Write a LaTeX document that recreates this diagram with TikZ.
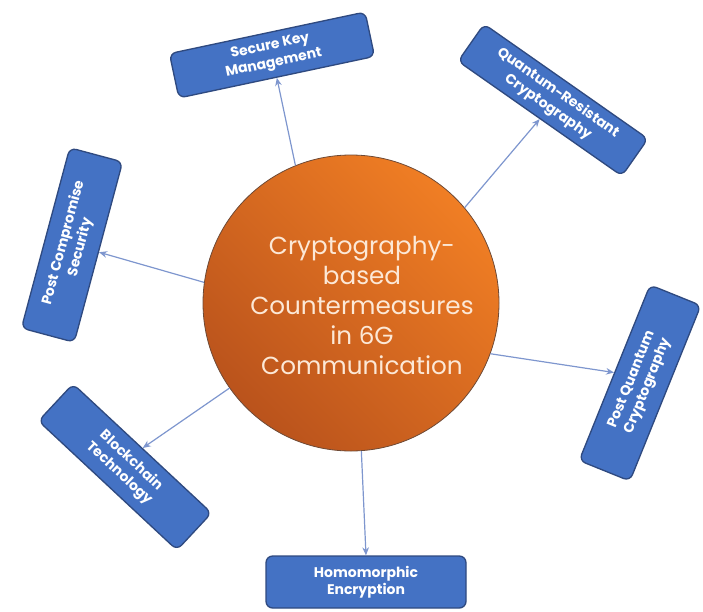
\documentclass[tikz,border=0pt]{standalone}
\usepackage{fontspec}
\setmainfont{Poppins}
\usetikzlibrary{arrows.meta}
\definecolor{boxblue}{HTML}{4472C4}
\definecolor{boxedge}{HTML}{2F4A80}
\definecolor{hubhi}{HTML}{F07E24}
\definecolor{hublo}{HTML}{BA531C}
\definecolor{hubedge}{HTML}{6E4A36}
\definecolor{hubtext}{HTML}{FCE8D6}
\definecolor{linkblue}{HTML}{7E96CE}
\begin{document}
\begin{tikzpicture}[x=0.75pt,y=-0.75pt,
  topic/.style={draw=boxedge, line width=1pt, fill=boxblue, rounded corners=5pt,
    text=white, align=center, inner sep=2pt,
    font=\fontsize{10.5}{13}\selectfont\bfseries},
  link/.style={draw=linkblue, line width=0.9pt, -{Stealth[length=6pt,width=5pt]}}
]
\useasboundingbox (0,0) rectangle (703,611);

% central hub and its title
\node[circle, minimum size=222pt, draw=hubedge, line width=0.6pt,
  shading=axis, top color=hubhi, bottom color=hublo, shading angle=-45]
  (hub) at (351,303) {};
\node[text=hubtext, align=center, font=\fontsize{18.5}{22.5}\selectfont]
  (hubtitle) at (362,305) {Cryptography-\\based\\Countermeasures\\in 6G\\Communication};

% surrounding topics
\node[topic, minimum width=150pt, minimum height=34pt, rotate=12]  (skm) at (272,55)  {Secure Key\\Management};
\node[topic, minimum width=150pt, minimum height=34pt, rotate=-35] (qrc) at (553,100) {Quantum-Resistant\\Cryptography};
\node[topic, minimum width=140pt, minimum height=41pt, rotate=75]  (pcs) at (72,245)  {Post Compromise\\Security};
\node[topic, minimum width=142pt, minimum height=41pt, rotate=68]  (pqc) at (640,383) {Post Quantum\\Cryptography};
\node[topic, minimum width=142pt, minimum height=38pt, rotate=-43] (bt)  at (125,467) {Blockchain\\Technology};
\node[topic, minimum width=150pt, minimum height=39pt]             (he)  at (366,582) {Homomorphic\\Encryption};

% connectors
\draw[link] (hub.112) -- (skm.south);
\draw[link] (hub.40)  -- (qrc.south);
\draw[link] (hub.172) -- (pcs.south);
\draw[link] (hub.-20) -- (pqc.north);
\draw[link] (hub.215) -- (bt.north);
\draw[link] (hub.-86) -- (he.north);
\end{tikzpicture}
\end{document}
